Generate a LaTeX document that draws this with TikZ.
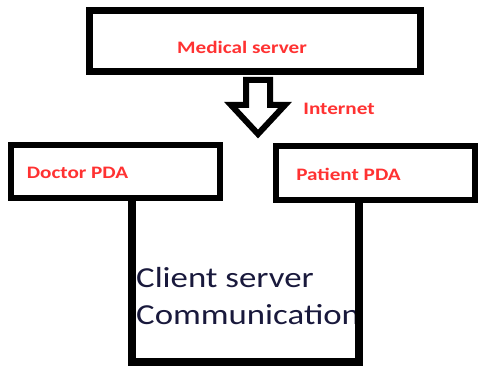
\documentclass[tikz,border=0pt]{standalone}
\usepackage{fontspec}
\setmainfont{Carlito}
\definecolor{labelred}{RGB}{255,50,50}
\definecolor{inknavy}{RGB}{25,25,60}
\newcommand{\wide}[1]{\scalebox{1.21}[1]{#1}}
\newcommand{\widebody}[1]{\scalebox{1.2}[1]{#1}}
\begin{document}
\begin{tikzpicture}[x=1pt,y=1pt,
  boxframe/.style={draw=black,line width=7pt,fill=white,inner sep=0pt},
  redlabel/.style={text=labelred,font=\fontsize{17.5}{20}\selectfont\bfseries,inner sep=0pt},
  wire/.style={draw=black,line width=8pt,line join=miter},
  bodytext/.style={text=inknavy,font=\fontsize{29}{34}\selectfont,inner sep=0pt,anchor=west}]
\useasboundingbox (0,0) rectangle (479,-366);
\fill[white] (0,0) rectangle (479,-366);

% boxes
\node[boxframe,minimum width=331pt,minimum height=61pt] (server) at (254.5,-41.5) {};
\node[boxframe,line width=6.5pt,minimum width=209pt,minimum height=53pt] (doctor) at (115.5,-171.5) {};
\node[boxframe,line width=6.5pt,minimum width=199pt,minimum height=54pt] (patient) at (375.5,-173) {};

% box captions
\node[redlabel] (serverlbl) at (242,-47) {\wide{Medical server}};
\node[redlabel] (doctorlbl) at (77.5,-173) {\wide{Doctor PDA}};
\node[redlabel] (patientlbl) at (348.5,-174) {\wide{Patient PDA}};
\node[redlabel] (netlbl) at (339,-109) {\wide{Internet}};

% hollow arrow from the server down to the PDAs
\draw[line width=6pt,line join=miter,fill=white]
  (246,-80) -- (270,-80) -- (270,-105) -- (285,-105) -- (258,-134)
  -- (231,-105) -- (246,-105) -- cycle;

% link between the two PDAs
\coordinate (lb) at (132,-362);
\coordinate (rb) at (359,-362);

% caption inside the link
\begin{scope}
\clip (0,0) rectangle (356,-366);
\node[bodytext] (cs1) at (136,-278) {\widebody{Client server}};
\node[bodytext] (cs2) at (136,-315) {\widebody{Communication}};
\end{scope}

\draw[wire] (doctor.south -| lb) -- (lb) -- (rb) -- (patient.south -| rb);
\end{tikzpicture}
\end{document}
